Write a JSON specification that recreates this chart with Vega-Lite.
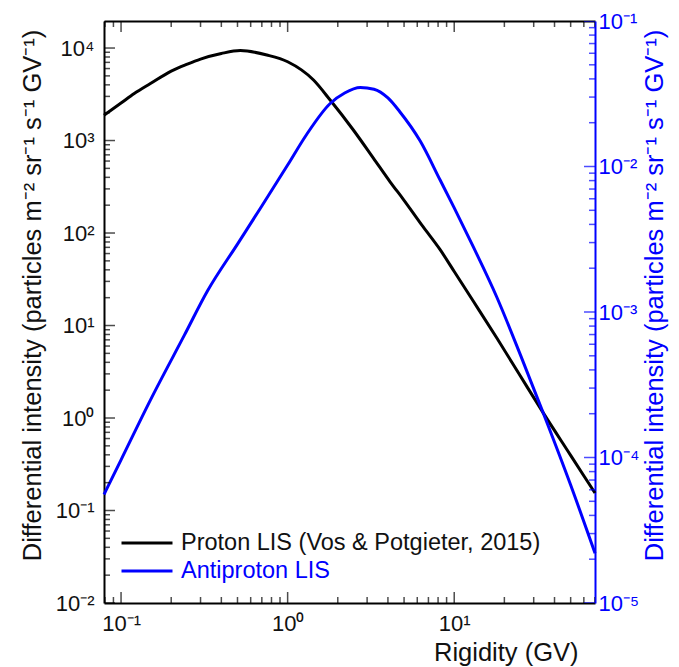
{
  "$schema": "https://vega.github.io/schema/vega-lite/v6.json",
  "width": 491,
  "height": 582,
  "autosize": {"type": "none"},
  "padding": {"left": 104, "top": 21, "right": 84, "bottom": 64},
  "background": "white",
  "config": {
    "view": {"stroke": null},
    "font": "Liberation Sans",
    "axis": {
      "labelFont": "Liberation Sans",
      "titleFont": "Liberation Sans",
      "grid": false,
      "labelOverlap": false,
      "domainWidth": 2,
      "tickOpacity": 0,
      "labelFontSize": 22,
      "titleFontSize": 25.5,
      "titleFontWeight": "normal"
    }
  },
  "datasets": {
    "lis": [
      {"series": "Proton LIS (Vos & Potgieter, 2015)", "R": 0.079, "J": 1880},
      {"series": "Proton LIS (Vos & Potgieter, 2015)", "R": 0.1, "J": 2540},
      {"series": "Proton LIS (Vos & Potgieter, 2015)", "R": 0.12, "J": 3220},
      {"series": "Proton LIS (Vos & Potgieter, 2015)", "R": 0.15, "J": 4130},
      {"series": "Proton LIS (Vos & Potgieter, 2015)", "R": 0.2, "J": 5640},
      {"series": "Proton LIS (Vos & Potgieter, 2015)", "R": 0.25, "J": 6710},
      {"series": "Proton LIS (Vos & Potgieter, 2015)", "R": 0.3, "J": 7600},
      {"series": "Proton LIS (Vos & Potgieter, 2015)", "R": 0.4, "J": 8730},
      {"series": "Proton LIS (Vos & Potgieter, 2015)", "R": 0.52, "J": 9390},
      {"series": "Proton LIS (Vos & Potgieter, 2015)", "R": 0.75, "J": 8400},
      {"series": "Proton LIS (Vos & Potgieter, 2015)", "R": 1.0, "J": 7110},
      {"series": "Proton LIS (Vos & Potgieter, 2015)", "R": 1.43, "J": 4510},
      {"series": "Proton LIS (Vos & Potgieter, 2015)", "R": 1.8, "J": 2740},
      {"series": "Proton LIS (Vos & Potgieter, 2015)", "R": 2.48, "J": 1300},
      {"series": "Proton LIS (Vos & Potgieter, 2015)", "R": 3.27, "J": 646},
      {"series": "Proton LIS (Vos & Potgieter, 2015)", "R": 4.13, "J": 356},
      {"series": "Proton LIS (Vos & Potgieter, 2015)", "R": 4.96, "J": 230},
      {"series": "Proton LIS (Vos & Potgieter, 2015)", "R": 6.5, "J": 117},
      {"series": "Proton LIS (Vos & Potgieter, 2015)", "R": 8.23, "J": 66},
      {"series": "Proton LIS (Vos & Potgieter, 2015)", "R": 10, "J": 38.4},
      {"series": "Proton LIS (Vos & Potgieter, 2015)", "R": 13, "J": 18.4},
      {"series": "Proton LIS (Vos & Potgieter, 2015)", "R": 18.1, "J": 7.23},
      {"series": "Proton LIS (Vos & Potgieter, 2015)", "R": 24.9, "J": 2.86},
      {"series": "Proton LIS (Vos & Potgieter, 2015)", "R": 34.3, "J": 1.13},
      {"series": "Proton LIS (Vos & Potgieter, 2015)", "R": 50, "J": 0.395},
      {"series": "Proton LIS (Vos & Potgieter, 2015)", "R": 70, "J": 0.1545},
      {"series": "Antiproton LIS", "R": 0.079, "J": 0.0000557},
      {"series": "Antiproton LIS", "R": 0.1, "J": 0.0000964},
      {"series": "Antiproton LIS", "R": 0.15, "J": 0.000248},
      {"series": "Antiproton LIS", "R": 0.24, "J": 0.000693},
      {"series": "Antiproton LIS", "R": 0.33, "J": 0.001393},
      {"series": "Antiproton LIS", "R": 0.5, "J": 0.00293},
      {"series": "Antiproton LIS", "R": 0.7, "J": 0.00535},
      {"series": "Antiproton LIS", "R": 1.0, "J": 0.01023},
      {"series": "Antiproton LIS", "R": 1.3, "J": 0.0166},
      {"series": "Antiproton LIS", "R": 1.8, "J": 0.0271},
      {"series": "Antiproton LIS", "R": 2.2, "J": 0.032},
      {"series": "Antiproton LIS", "R": 2.73, "J": 0.0349},
      {"series": "Antiproton LIS", "R": 3.3, "J": 0.034},
      {"series": "Antiproton LIS", "R": 4.0, "J": 0.0296},
      {"series": "Antiproton LIS", "R": 4.7, "J": 0.0239},
      {"series": "Antiproton LIS", "R": 6.25, "J": 0.01496},
      {"series": "Antiproton LIS", "R": 8.23, "J": 0.00807},
      {"series": "Antiproton LIS", "R": 10, "J": 0.00519},
      {"series": "Antiproton LIS", "R": 13, "J": 0.00281},
      {"series": "Antiproton LIS", "R": 18, "J": 0.001268},
      {"series": "Antiproton LIS", "R": 25, "J": 0.000505},
      {"series": "Antiproton LIS", "R": 34.3, "J": 0.000201},
      {"series": "Antiproton LIS", "R": 50, "J": 0.0000647},
      {"series": "Antiproton LIS", "R": 70, "J": 0.000022}
    ],
    "xt": [
      {"v": 0.08}, {"v": 0.09}, {"v": 0.1}, {"v": 0.2}, {"v": 0.3}, {"v": 0.4}, {"v": 0.5}, {"v": 0.6}, {"v": 0.7}, {"v": 0.8}, {"v": 0.9},
      {"v": 1}, {"v": 2}, {"v": 3}, {"v": 4}, {"v": 5}, {"v": 6}, {"v": 7}, {"v": 8}, {"v": 9},
      {"v": 10}, {"v": 20}, {"v": 30}, {"v": 40}, {"v": 50}, {"v": 60}, {"v": 70}
    ],
    "yl": [
      {"v": 0.01}, {"v": 0.02}, {"v": 0.03}, {"v": 0.04}, {"v": 0.05}, {"v": 0.06}, {"v": 0.07}, {"v": 0.08}, {"v": 0.09},
      {"v": 0.1}, {"v": 0.2}, {"v": 0.3}, {"v": 0.4}, {"v": 0.5}, {"v": 0.6}, {"v": 0.7}, {"v": 0.8}, {"v": 0.9},
      {"v": 1}, {"v": 2}, {"v": 3}, {"v": 4}, {"v": 5}, {"v": 6}, {"v": 7}, {"v": 8}, {"v": 9},
      {"v": 10}, {"v": 20}, {"v": 30}, {"v": 40}, {"v": 50}, {"v": 60}, {"v": 70}, {"v": 80}, {"v": 90},
      {"v": 100}, {"v": 200}, {"v": 300}, {"v": 400}, {"v": 500}, {"v": 600}, {"v": 700}, {"v": 800}, {"v": 900},
      {"v": 1000}, {"v": 2000}, {"v": 3000}, {"v": 4000}, {"v": 5000}, {"v": 6000}, {"v": 7000}, {"v": 8000}, {"v": 9000},
      {"v": 10000}
    ],
    "yr": [
      {"v": 0.00001}, {"v": 0.00002}, {"v": 0.00003}, {"v": 0.00004}, {"v": 0.00005}, {"v": 0.00006}, {"v": 0.00007}, {"v": 0.00008}, {"v": 0.00009},
      {"v": 0.0001}, {"v": 0.0002}, {"v": 0.0003}, {"v": 0.0004}, {"v": 0.0005}, {"v": 0.0006}, {"v": 0.0007}, {"v": 0.0008}, {"v": 0.0009},
      {"v": 0.001}, {"v": 0.002}, {"v": 0.003}, {"v": 0.004}, {"v": 0.005}, {"v": 0.006}, {"v": 0.007}, {"v": 0.008}, {"v": 0.009},
      {"v": 0.01}, {"v": 0.02}, {"v": 0.03}, {"v": 0.04}, {"v": 0.05}, {"v": 0.06}, {"v": 0.07}, {"v": 0.08}, {"v": 0.09},
      {"v": 0.1}
    ]
  },
  "layer": [
    {
      "data": {"name": "lis"},
      "transform": [{"filter": "datum.series !== 'Antiproton LIS'"}],
      "mark": {"type": "line", "strokeWidth": 3, "interpolate": "monotone"},
      "encoding": {
        "x": {
          "field": "R", "type": "quantitative",
          "scale": {"type": "log", "domain": [0.079, 70], "nice": false},
          "axis": {
            "orient": "bottom",
            "tickSize": -6,
            "values": [0.08, 0.09, 0.1, 0.2, 0.3, 0.4, 0.5, 0.6, 0.7, 0.8, 0.9, 1, 2, 3, 4, 5, 6, 7, 8, 9, 10, 20, 30, 40, 50, 60, 70],
            "labelExpr": "abs(log(datum.value)/LN10 - round(log(datum.value)/LN10)) < 1e-6 ? '10' + replace(replace(replace(replace(replace(replace(replace(replace('' + round(log(datum.value)/LN10), '-', '⁻'), '0', '⁰'), '1', '¹'), '2', '²'), '3', '³'), '4', '⁴'), '5', '⁵'), '6', '⁶') : ''",
            "labelPadding": 16,
            "domainColor": "#000000",
            "labelColor": "#111111",
            "title": "Rigidity (GV)",
            "titleColor": "#111111",
            "titleAnchor": null,
            "titleAlign": "right",
            "titleBaseline": "alphabetic",
            "titleX": 474,
            "titleY": 57
          }
        },
        "y": {
          "field": "J", "type": "quantitative",
          "scale": {"type": "log", "domain": [0.01, 19600], "nice": false},
          "axis": {
            "orient": "left",
            "tickSize": -6,
            "values": [0.01, 0.1, 1, 10, 100, 1000, 10000],
            "labelExpr": "'10' + replace(replace(replace(replace(replace(replace(replace(replace('' + round(log(datum.value)/LN10), '-', '⁻'), '0', '⁰'), '1', '¹'), '2', '²'), '3', '³'), '4', '⁴'), '5', '⁵'), '6', '⁶')",
            "labelPadding": 16,
            "domainColor": "#000000",
            "labelColor": "#111111",
            "title": "Differential intensity (particles m⁻² sr⁻¹ s⁻¹ GV⁻¹)",
            "titleColor": "#111111",
            "titlePadding": 10,
            "titleY": 274
          }
        },
        "color": {
          "field": "series", "type": "nominal",
          "scale": {"domain": ["Proton LIS (Vos & Potgieter, 2015)", "Antiproton LIS"], "range": ["#000000", "#0000ff"]},
          "legend": {
            "orient": "none",
            "legendX": 16,
            "legendY": 510,
            "title": null,
            "symbolType": "stroke",
            "symbolSize": 2600,
            "symbolStrokeWidth": 3,
            "labelFont": "Liberation Sans",
            "labelFontSize": 23.5,
            "labelOffset": 7,
            "labelLimit": 600,
            "clipHeight": 24,
            "rowPadding": 4,
            "padding": 0,
            "encode": {"labels": {"update": {"fill": {"signal": "datum.value === 'Antiproton LIS' ? '#0000ff' : '#111111'"}}}}
          }
        }
      }
    },
    {
      "data": {"name": "lis"},
      "transform": [{"filter": "datum.series === 'Antiproton LIS'"}],
      "mark": {"type": "line", "strokeWidth": 3, "interpolate": "monotone"},
      "encoding": {
        "x": {
          "field": "R", "type": "quantitative",
          "scale": {"type": "log", "domain": [0.079, 70], "nice": false},
          "axis": {
            "orient": "top",
            "tickSize": -6,
            "values": [0.1, 1, 10],
            "labels": false,
            "title": null,
            "domainColor": "#000000"
          }
        },
        "y": {
          "field": "J", "type": "quantitative",
          "scale": {"type": "log", "domain": [0.00001, 0.1], "nice": false},
          "axis": {
            "orient": "right",
            "tickSize": -6,
            "values": [0.00001, 0.0001, 0.001, 0.01, 0.1],
            "labelExpr": "'10' + replace(replace(replace(replace(replace(replace(replace(replace('' + round(log(datum.value)/LN10), '-', '⁻'), '0', '⁰'), '1', '¹'), '2', '²'), '3', '³'), '4', '⁴'), '5', '⁵'), '6', '⁶')",
            "labelPadding": 9,
            "domainColor": "#0000ff",
            "labelColor": "#0000ff",
            "title": "Differential intensity (particles m⁻² sr⁻¹ s⁻¹ GV⁻¹)",
            "titleColor": "#0000ff",
            "titleAngle": 270,
            "titleBaseline": "top",
            "titlePadding": 4,
            "titleY": 274
          }
        },
        "color": {"field": "series", "type": "nominal"}
      }
    },
    {
      "data": {"name": "xt"},
      "mark": {"type": "tick", "orient": "vertical", "thickness": 1.5, "color": "#000000", "clip": true},
      "encoding": {
        "x": {"field": "v", "type": "quantitative", "scale": {"type": "log", "domain": [0.079, 70], "nice": false}, "axis": null},
        "y": {"datum": 0.01, "type": "quantitative", "scale": {"type": "log", "domain": [0.01, 19600], "nice": false}, "axis": null},
        "size": {"condition": {"test": "abs(log(datum.v)/LN10 - round(log(datum.v)/LN10)) < 1e-6", "value": 22}, "value": 12}
      }
    },
    {
      "data": {"name": "xt"},
      "mark": {"type": "tick", "orient": "vertical", "thickness": 1.5, "color": "#000000", "clip": true},
      "encoding": {
        "x": {"field": "v", "type": "quantitative", "scale": {"type": "log", "domain": [0.079, 70], "nice": false}, "axis": null},
        "y": {"datum": 19600, "type": "quantitative", "scale": {"type": "log", "domain": [0.01, 19600], "nice": false}, "axis": null},
        "size": {"condition": {"test": "abs(log(datum.v)/LN10 - round(log(datum.v)/LN10)) < 1e-6", "value": 22}, "value": 12}
      }
    },
    {
      "data": {"name": "yl"},
      "mark": {"type": "tick", "orient": "horizontal", "thickness": 1.5, "color": "#000000", "clip": true},
      "encoding": {
        "x": {"datum": 0.079, "type": "quantitative", "scale": {"type": "log", "domain": [0.079, 70], "nice": false}, "axis": null},
        "y": {"field": "v", "type": "quantitative", "scale": {"type": "log", "domain": [0.01, 19600], "nice": false}, "axis": null},
        "size": {"condition": {"test": "abs(log(datum.v)/LN10 - round(log(datum.v)/LN10)) < 1e-6", "value": 22}, "value": 12}
      }
    },
    {
      "data": {"name": "yr"},
      "mark": {"type": "tick", "orient": "horizontal", "thickness": 1.5, "color": "#0000ff", "clip": true},
      "encoding": {
        "x": {"datum": 70, "type": "quantitative", "scale": {"type": "log", "domain": [0.079, 70], "nice": false}, "axis": null},
        "y": {"field": "v", "type": "quantitative", "scale": {"type": "log", "domain": [0.00001, 0.1], "nice": false}, "axis": null},
        "size": {"condition": {"test": "abs(log(datum.v)/LN10 - round(log(datum.v)/LN10)) < 1e-6", "value": 22}, "value": 12}
      }
    }
  ],
  "resolve": {"scale": {"y": "independent"}, "axis": {"x": "independent", "y": "independent"}}
}
